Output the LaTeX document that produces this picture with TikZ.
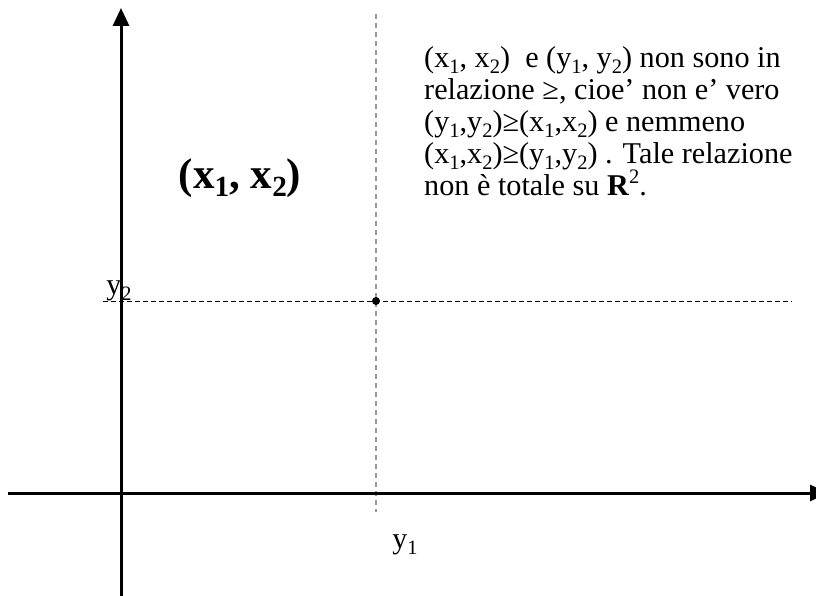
\documentclass[tikz,border=0pt]{standalone}
\usepackage{fontspec}
\setmainfont{Liberation Serif}
\usetikzlibrary{arrows.meta}
\newcommand\lo[1]{\smash{\raisebox{-0.2em}{\scalebox{0.68}{#1}}}}
\newcommand\hi[1]{\smash{\raisebox{0.38em}{\scalebox{0.68}{#1}}}}
\tikzset{
  axis/.style={line width=3pt,-{Triangle[length=18pt,width=16pt]}},
  guidev/.style={gray!80,line width=1.6pt,dash pattern=on 5pt off 4pt},
  guideh/.style={black,line width=0.8pt,dash pattern=on 5pt off 3pt},
  lbl/.style={inner sep=0pt,font=\fontsize{30}{32}\selectfont},
  txt/.style={inner sep=0pt,align=left,font=\fontsize{30.2}{32}\selectfont},
  pt/.style={circle,fill=black,inner sep=0pt,minimum size=8pt}
}
\begin{document}
\begin{tikzpicture}[x=1pt,y=-1pt]
\useasboundingbox (0,0) rectangle (816,596);
\coordinate (yb) at (121,596);
\coordinate (yt) at (121,8);
\coordinate (xl) at (8,493);
\coordinate (xr) at (828,493);
\coordinate (vt) at (376,14);
\coordinate (vb) at (376,512);
\coordinate (hl) at (103,301);
\coordinate (hr) at (792,301);
\draw[guidev] (vt) -- (vb);
\draw[guideh] (hl) -- (hr);
\draw[axis] (yb) -- (yt);
\draw[axis] (xl) -- (xr);
\node[pt] (p) at (376,301) {};
\node[lbl] (ly2) at (119,291) {y\lo{2}};
\node[lbl] (ly1) at (405,545) {y\lo{1}};
\node[lbl,font=\fontsize{43}{44}\selectfont\bfseries] (px) at (240,178) {(x\lo{1}, x\lo{2})};
\node[txt,anchor=north west] (t) at (424,46) {(x\lo{1}, x\lo{2})\ \ e (y\lo{1}, y\lo{2}) non sono in\\
relazione ≥, cioe’ non e’ vero\\
(y\lo{1},y\lo{2})≥(x\lo{1},x\lo{2}) e nemmeno\\
(x\lo{1},x\lo{2})≥(y\lo{1},y\lo{2}) . Tale relazione\\
non è totale su \textbf{R}\hi{2}.};
\end{tikzpicture}
\end{document}
